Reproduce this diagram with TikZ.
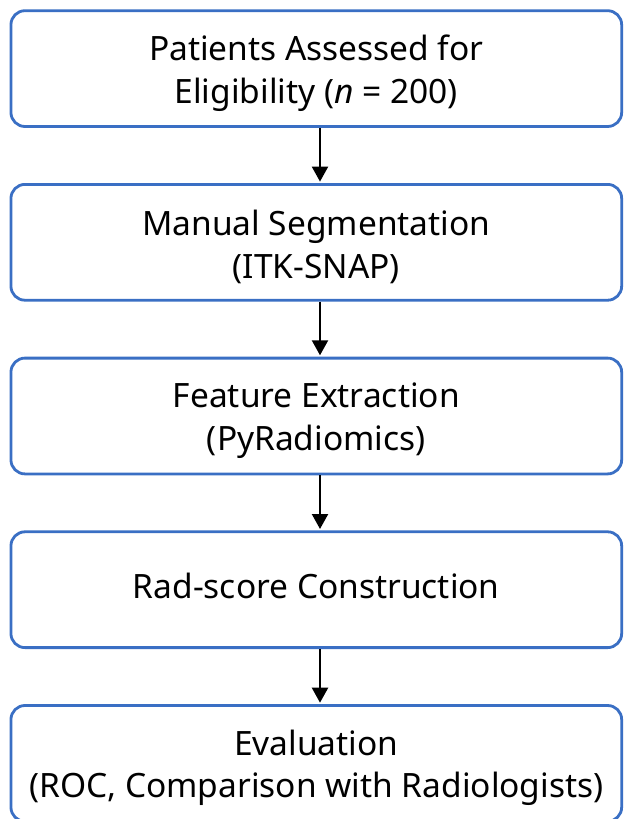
\documentclass[tikz,border=0pt]{standalone}
\usepackage{fontspec}
\setmainfont{Noto Sans}
\usetikzlibrary{arrows.meta}
\definecolor{boxblue}{HTML}{3A6FC4}
\tikzset{
  stepbox/.style={draw=boxblue, line width=2.8pt, rounded corners=14pt, fill=white,
    minimum width=610.7pt, minimum height=115.8pt, inner sep=0pt},
  steptext/.style={align=center, inner sep=0pt,
    font=\fontsize{33.5}{42.5}\selectfont},
  % box with its caption set in the middle, nudged vertically by #1
  boxtext/.style 2 args={label={[steptext, yshift=#1]center:{#2}}},
  flow/.style={draw=black, line width=2.2pt, shorten >=1.4pt,
    -{Triangle[length=15pt,width=16pt]}}
}
\begin{document}
\begin{tikzpicture}[x=1pt,y=1pt]
  \useasboundingbox (0,0) rectangle (624,-819);
  \fill[white] (0,0) rectangle (624,-819);
  \node[stepbox, boxtext={-4.5pt}{Patients Assessed for\\Eligibility (\textit{n} = 200)}]
    (b1) at (316.3,-68.6) {};
  \node[stepbox, boxtext={-4.5pt}{Manual Segmentation\\(ITK-SNAP)}]
    (b2) at (316.3,-242.3) {};
  \node[stepbox, boxtext={-4.5pt}{Feature Extraction\\(PyRadiomics)}]
    (b3) at (316.3,-416) {};
  \node[stepbox, boxtext={4pt}{Rad-score Construction}]
    (b4) at (316.3,-589.7) {};
  \node[stepbox, boxtext={-4.5pt}{Evaluation\\(ROC, Comparison with Radiologists)}]
    (b5) at (316.3,-763.4) {};
  \draw[flow] (b1.south -| 320,0) -- (b2.north -| 320,0);
  \draw[flow] (b2.south -| 320,0) -- (b3.north -| 320,0);
  \draw[flow] (b3.south -| 320,0) -- (b4.north -| 320,0);
  \draw[flow] (b4.south -| 320,0) -- (b5.north -| 320,0);
\end{tikzpicture}
\end{document}
